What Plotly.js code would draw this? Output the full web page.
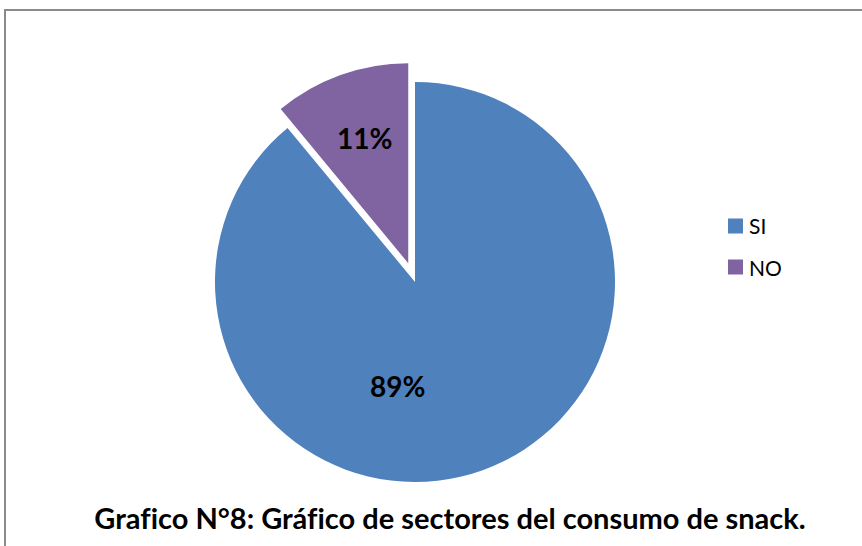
<!DOCTYPE html>
<html>
<head>
<meta charset="utf-8">
<script src="https://cdn.plot.ly/plotly-3.0.1.min.js"></script>
<style>
html,body{margin:0;padding:0;background:#fff;}
#chart{width:862px;height:546px;}
#chart text{font-variant-ligatures:none;font-feature-settings:"liga" 0;}
</style>
</head>
<body>
<div id="chart"></div>
<script>
const categories = ["SI", "NO"];
const values = [89, 11];
const colors = ["#4F81BD", "#8064A2"];
const pulls = [0, 0.1];
const chartTitle = "Grafico N°8: Gráfico de sectores del consumo de snack.";

const W = 862, H = 546;
const FONT = "Lato, 'Open Sans', sans-serif";
const total = values.reduce((a, b) => a + b, 0);

const trace = {
  type: "pie",
  labels: categories,
  values: values,
  marker: {colors: colors, line: {width: 0}},
  pull: pulls,
  sort: false,
  direction: "clockwise",
  rotation: 0,
  textinfo: "none",
  domain: {x: [195/W, 635/W], y: [1 - 502/H, 1 - 62/H]},
  hoverinfo: "label+percent",
  showlegend: false
};

// percentage labels (text taken from the values)
const labelPos = [[397, 386], [364, 138]];
const annotations = values.map((v, i) => ({
  xref: "paper", yref: "paper",
  x: labelPos[i][0] / W, y: 1 - labelPos[i][1] / H,
  xanchor: "center", yanchor: "middle",
  text: "<b>" + Math.round(v / total * 100) + "%</b>",
  showarrow: false,
  font: {family: FONT, size: 28, color: "#000"}
}));

// legend built from categories / colors
const legendX = 728, legendY0 = 226, legendStep = 41, sw = 15;
const shapes = [{
  type: "rect", xref: "paper", yref: "paper",
  x0: 5/W, x1: 1.01, y0: -0.01, y1: 1 - 10/H,
  line: {color: "#8a8a8a", width: 2}, fillcolor: "rgba(0,0,0,0)", layer: "below"
}];
categories.forEach((c, i) => {
  const cy = legendY0 + i * legendStep;
  shapes.push({
    type: "rect", xref: "paper", yref: "paper",
    x0: legendX / W, x1: (legendX + sw) / W,
    y0: 1 - (cy + sw / 2) / H, y1: 1 - (cy - sw / 2) / H,
    line: {width: 0}, fillcolor: colors[i]
  });
  annotations.push({
    xref: "paper", yref: "paper",
    x: (legendX + sw + 4) / W, y: 1 - cy / H,
    xanchor: "left", yanchor: "middle",
    text: c, showarrow: false,
    font: {family: FONT, size: 21, color: "#000"}
  });
});

const layout = {
  width: W, height: H,
  margin: {l: 0, r: 0, t: 0, b: 0},
  paper_bgcolor: "#fff",
  showlegend: false,
  title: {
    text: "<b>" + chartTitle + "</b>",
    x: 450/W, xanchor: "center",
    y: 1 - 519/H, yref: "container", yanchor: "middle",
    font: {family: FONT, size: 29, color: "#000"}
  },
  shapes: shapes,
  annotations: annotations
};

Plotly.newPlot("chart", [trace], layout, {displayModeBar: false, staticPlot: true});
</script>
</body>
</html>
